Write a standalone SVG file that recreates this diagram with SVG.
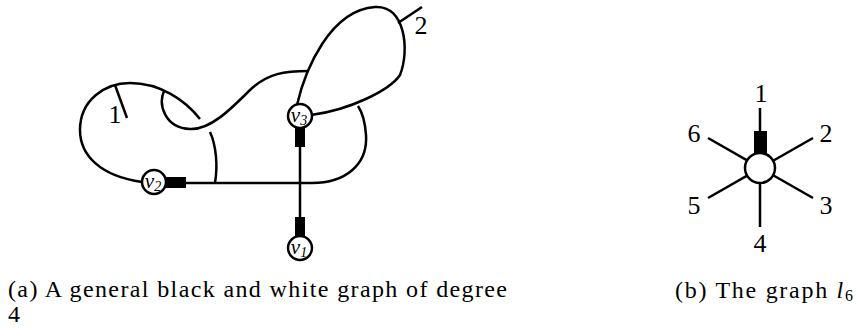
<svg xmlns="http://www.w3.org/2000/svg" width="856" height="328" viewBox="0 0 856 328">
<style>
.e{fill:none;stroke:#000;stroke-width:2.5;stroke-linecap:butt}
.n{fill:#fff;stroke:#000;stroke-width:2.5}
.b{fill:#000}
.t{font-family:"Liberation Serif","DejaVu Serif",serif;fill:#000}
.lab{font-size:26px;text-anchor:middle}
.vl{font-size:21px;font-style:italic;text-anchor:middle}
.cap{font-size:24px}
</style>
<rect width="856" height="328" fill="#fff"/>
<g id="connectors">
<path class="e" d="M142,182 C100,176 80,155 80,130 C80,100 105,83 130,83 C160,83 185,100 200,119"/>
<path class="e" d="M115,85 L127,118"/>
<path class="e" d="M164,91 C158,105 165,128 190,129 C210,130 230,110 250,90 C268,73 285,71 309,71"/>
<path class="e" d="M210,132 C216,145 218,165 215,183"/>
<path class="e" d="M297,105 C305,70 330,10 375,7 C405,5 410,50 400,75 C390,90 350,110 311,115"/>
<path class="e" d="M398,23 L422,7"/>
<path class="e" d="M186,183 L312,183 C345,183 368,165 366,135 C365,120 362,112 358,106"/>
<path class="e" d="M300,128 L300,236"/>
<path class="e" d="M760,108 L760,153 M708,138 L813,198 M813,138 L708,198 M760,168 L760,227"/>
</g>
<g id="v2">
<rect class="b" x="166" y="177" width="20" height="11"/>
<circle class="n" cx="154" cy="182" r="12"/>
<text class="t vl" x="153" y="188">v<tspan font-size="14" dy="3">2</tspan></text>
</g>
<g id="v3">
<rect class="b" x="295" y="127" width="10" height="20"/>
<circle class="n" cx="300" cy="116" r="12"/>
<text class="t vl" x="299" y="122">v<tspan font-size="14" dy="3">3</tspan></text>
</g>
<g id="v1">
<rect class="b" x="295" y="217" width="10" height="20"/>
<circle class="n" cx="300" cy="248" r="12"/>
<text class="t vl" x="299" y="254">v<tspan font-size="14" dy="3">1</tspan></text>
</g>
<g id="label1"><text class="t lab" x="115" y="123">1</text></g>
<g id="label2"><text class="t lab" x="421" y="34">2</text></g>
<g id="l6">
<rect class="b" x="754" y="131" width="13" height="22"/>
<circle class="n" cx="760" cy="168" r="15"/>
<text class="t lab" x="761" y="102">1</text>
<text class="t lab" x="826" y="142">2</text>
<text class="t lab" x="826" y="214">3</text>
<text class="t lab" x="760" y="252">4</text>
<text class="t lab" x="694" y="214">5</text>
<text class="t lab" x="694" y="142">6</text>
</g>
<g id="captions">
<text class="t cap" x="8" y="297" textLength="499" lengthAdjust="spacing">(a) A general black and white graph of degree</text>
<text class="t cap" x="8" y="322">4</text>
<text class="t cap" x="675" y="298" textLength="178" lengthAdjust="spacing">(b) The graph <tspan font-style="italic">l</tspan><tspan font-size="16" dy="3">6</tspan></text>
</g>
</svg>
